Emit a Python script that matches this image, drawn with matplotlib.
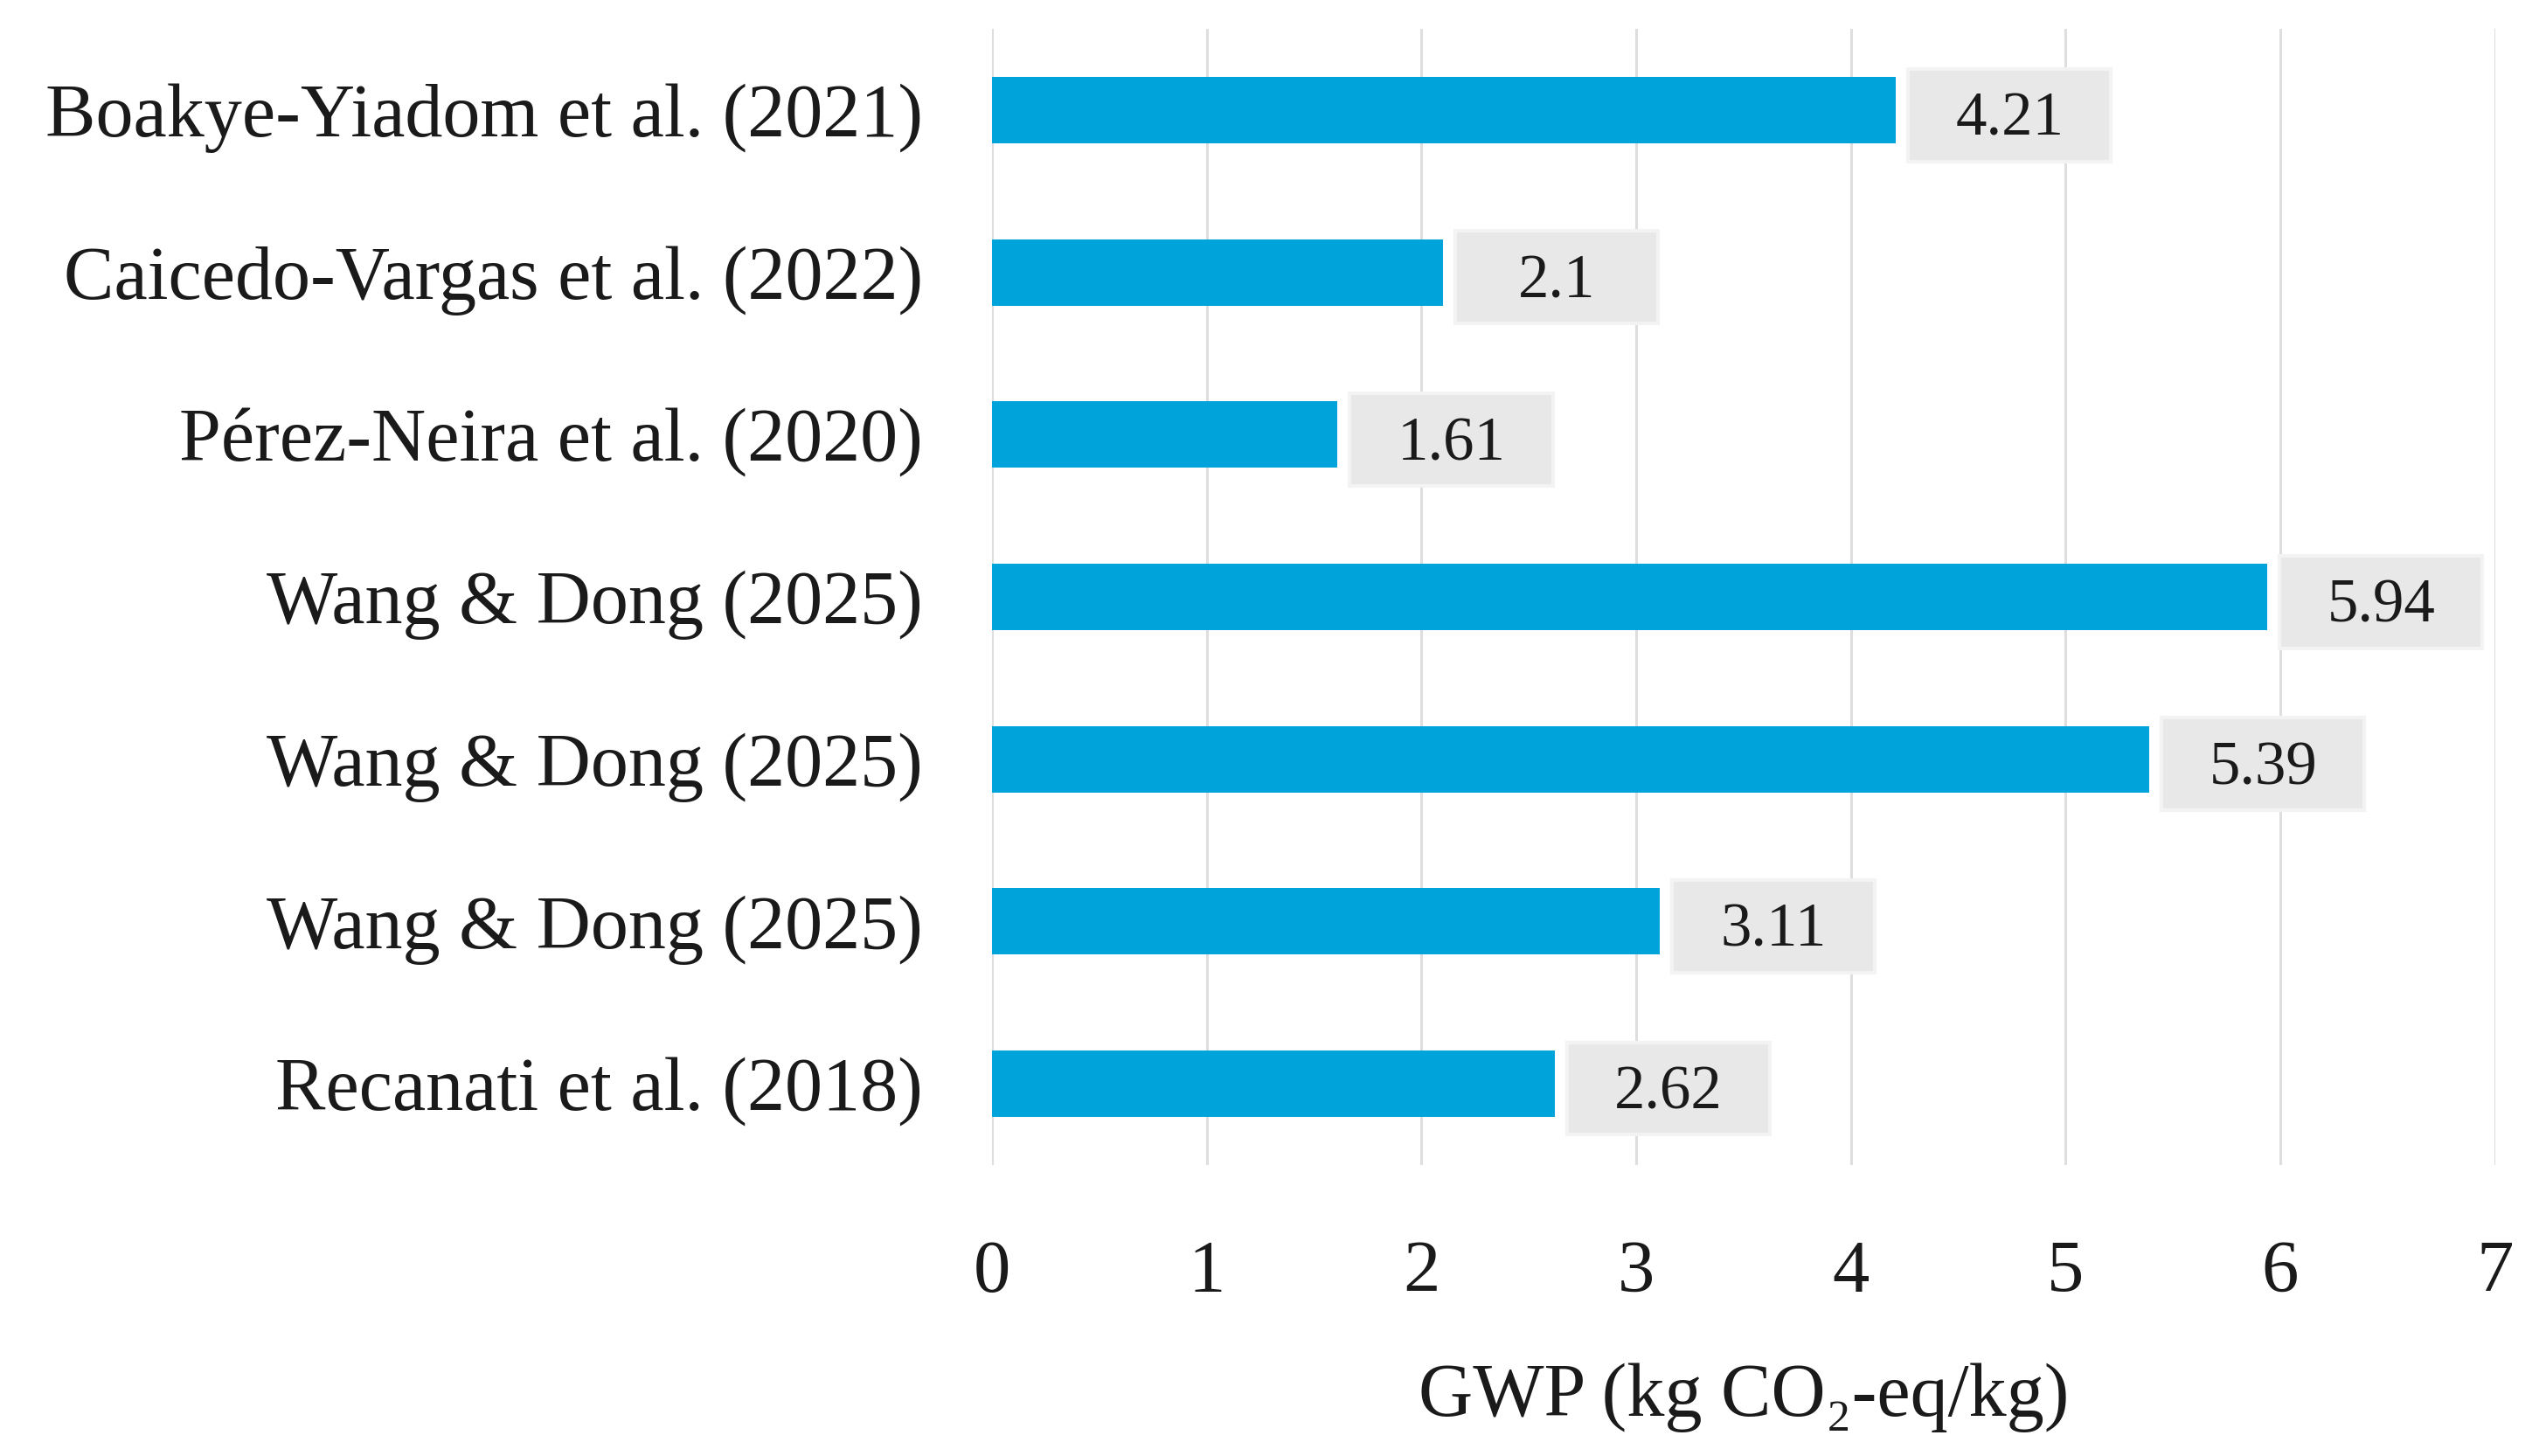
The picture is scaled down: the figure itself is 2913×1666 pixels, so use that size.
import matplotlib.pyplot as plt
from matplotlib.patches import Rectangle

studies = ['Boakye-Yiadom et al. (2021)', 'Caicedo-Vargas et al. (2022)',
           'Pérez-Neira et al. (2020)', 'Wang & Dong (2025)',
           'Wang & Dong (2025)', 'Wang & Dong (2025)', 'Recanati et al. (2018)']
gwp = [4.21, 2.1, 1.61, 5.94, 5.39, 3.11, 2.62]
value_labels = ['4.21', '2.1', '1.61', '5.94', '5.39', '3.11', '2.62']
xticks = [0, 1, 2, 3, 4, 5, 6, 7]

serif = ['Liberation Serif', 'DejaVu Serif']
plt.rcParams['font.family'] = serif

fig = plt.figure(figsize=(29.13, 16.66), dpi=100)
ax = fig.add_axes([0.3896, 0.200, 0.5904, 0.780])

pos = list(range(len(studies)))
ax.barh(pos, gwp, height=0.41, color='#00A3DA', zorder=3)

# grey value boxes, fixed size, right of each bar
box_w, box_h, gap = 0.945, 0.57, 0.057
for p, v, lab in zip(pos, gwp, value_labels):
    x0 = v + gap
    ax.add_patch(Rectangle((x0, p - box_h / 2 + 0.03), box_w, box_h,
                           facecolor='#e8e8e8', edgecolor='#f3f3f3',
                           linewidth=3, zorder=4, clip_on=False))
    ax.text(x0 + box_w / 2, p + 0.06, lab, ha='center', va='center',
            fontsize=51, color='#1a1a1a', zorder=5)

ax.set_xlim(0, 7)
ax.set_ylim(len(studies) - 0.5, -0.5)
ax.set_xticks(xticks)
ax.set_yticks(pos)
ax.set_yticklabels(studies)
ax.grid(axis='x', color='#dedede', linewidth=2.2, zorder=0)
ax.set_axisbelow(True)
for s in ax.spines.values():
    s.set_visible(False)
ax.tick_params(axis='x', length=0, pad=62, labelsize=61, labelcolor='#1a1a1a')
ax.tick_params(axis='y', length=0, pad=57, labelsize=62, labelcolor='#1a1a1a')
ax.set_xlabel('GWP (kg CO₂-eq/kg)', fontsize=62, color='#1a1a1a', labelpad=46)

fig.savefig('out.png', dpi=100)
